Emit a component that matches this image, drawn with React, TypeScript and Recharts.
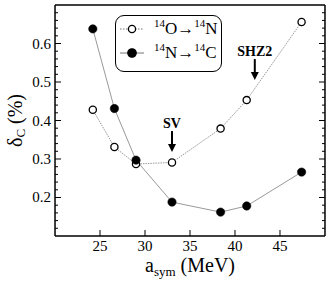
import React from 'react';
import { LineChart, Line, XAxis, YAxis, Legend, ReferenceDot } from 'recharts';

// ---- data ----
const aSym = [24.2, 26.6, 29.0, 33.0, 38.4, 41.3, 47.4];
const oToN = [0.428, 0.331, 0.287, 0.291, 0.379, 0.453, 0.656];
const nToC = [0.638, 0.431, 0.297, 0.188, 0.162, 0.178, 0.266];

const xDomain = [20, 50];
const yDomain = [0.1, 0.7];
const xMajorTicks = [25, 30, 35, 40, 45];
const xMinorTicks = [21, 22, 23, 24, 26, 27, 28, 29, 31, 32, 33, 34, 36, 37, 38, 39, 41, 42, 43, 44, 46, 47, 48, 49];
const yMajorTicks = [0.2, 0.3, 0.4, 0.5, 0.6];
const yMinorTicks = [0.12, 0.14, 0.16, 0.18, 0.22, 0.24, 0.26, 0.28, 0.32, 0.34, 0.36, 0.38, 0.42, 0.44, 0.46, 0.48, 0.52, 0.54, 0.56, 0.58, 0.62, 0.64, 0.66, 0.68];

const annotations = [
  { label: 'SV', x: 33.0, y: 0.318 },
  { label: 'SHZ2', x: 42.2, y: 0.505 },
];

const legendItems = [
  { key: 'o', from: 'O', to: 'N', mass: '14', filled: false },
  { key: 'n', from: 'N', to: 'C', mass: '14', filled: true },
];

const rows = aSym.map((x, i) => ({ x, o: oToN[i], n: nToC[i] }));

const FONT = '"Liberation Serif", "Times New Roman", Times, serif';
const serifStyle = { fontFamily: FONT };
const blank = () => '';
const THIN = 0.01;

const Arrow = (props: any) => {
  const { cx, cy, label } = props;
  if (cx == null || cy == null) return null;
  return (
    <g>
      <text x={cx} y={cy - 29} textAnchor="middle" dominantBaseline="central" style={serifStyle} fontWeight="bold" fontSize={14} fill="#000">
        {label}
      </text>
      <line x1={cx} y1={cy - 21} x2={cx} y2={cy - 6} stroke="#000" strokeWidth={2} />
      <path d={`M ${cx - 4} ${cy - 8} L ${cx + 4} ${cy - 8} L ${cx} ${cy} Z`} fill="#000" />
    </g>
  );
};

const XTick = (props: any) => {
  const { x, y, payload } = props;
  return (
    <text x={x} y={y} dy={10} textAnchor="middle" style={serifStyle} fontSize={15} fill="#000">
      {payload.value}
    </text>
  );
};

const YTick = (props: any) => {
  const { x, y, payload } = props;
  return (
    <text x={x} y={y} dy={5} textAnchor="end" style={serifStyle} fontSize={15} fill="#000">
      {Number(payload.value).toFixed(1)}
    </text>
  );
};

const YLabel = (props: any) => {
  const vb = props.viewBox || {};
  const x = (vb.x ?? 55) - 40;
  const y = (vb.y ?? 5) + (vb.height ?? 230) / 2;
  return (
    <text x={x} y={y} transform={`rotate(-90 ${x} ${y})`} textAnchor="middle" dominantBaseline="central" style={serifStyle} fontSize={20} fill="#000">
      δ<tspan fontSize={13} dy={5}>C</tspan>
      <tspan dy={-5}> (%)</tspan>
    </text>
  );
};

const XLabel = (props: any) => {
  const vb = props.viewBox || {};
  const x = (vb.x ?? 55) + (vb.width ?? 270) / 2;
  const y = (vb.y ?? 236) + 36.5;
  return (
    <text x={x} y={y} textAnchor="middle" style={serifStyle} fontSize={20} fill="#000">
      a<tspan fontSize={13} dy={4}>sym</tspan>
      <tspan dy={-4}> (MeV)</tspan>
    </text>
  );
};

const LegendBox = () => (
  <div
    style={{
      position: 'relative',
      width: 107,
      height: 57,
      border: '1.3px solid #000',
      borderRadius: 9,
      background: '#fff',
      fontFamily: FONT,
      fontSize: 17,
      color: '#000',
      boxSizing: 'border-box',
    }}
  >
    {legendItems.map((it, i) => (
      <div key={it.key} style={{ position: 'absolute', left: 0, top: i === 0 ? 1 : 25, height: 24, display: 'flex', alignItems: 'center' }}>
        <svg width={34} height={24} style={{ display: 'block' }}>
          <line x1={4} y1={12} x2={28} y2={12} stroke="#777" strokeWidth={1} strokeDasharray={it.filled ? undefined : '1.5 1.5'} />
          <circle cx={16} cy={12} r={it.filled ? 4.2 : 3.6} fill={it.filled ? '#000' : '#fff'} stroke="#000" strokeWidth={1.3} />
        </svg>
        <span style={{ marginLeft: 4, whiteSpace: 'nowrap', lineHeight: '24px' }}>
          <span style={{ fontSize: 11, verticalAlign: 'super', lineHeight: 0 }}>{it.mass}</span>
          {it.from}→
          <span style={{ fontSize: 11, verticalAlign: 'super', lineHeight: 0 }}>{it.mass}</span>
          {it.to}
        </span>
      </div>
    ))}
  </div>
);

export default function App() {
  return (
    <div style={{ position: 'absolute', left: 0, top: 0, width: 332, height: 281, background: '#fff', fontFamily: FONT }}>
      <LineChart width={332} height={281} data={rows} margin={{ top: 5, right: 7, bottom: 45, left: 55 }} style={serifStyle}>
        <XAxis
          xAxisId={0}
          dataKey="x"
          type="number"
          domain={xDomain}
          allowDataOverflow
          ticks={xMajorTicks}
          interval={0}
          height={THIN}
          stroke="#000"
          axisLine={{ stroke: '#000', strokeWidth: 1.5 }}
          tickLine={{ stroke: '#000' }}
          tickSize={-6}
          tickMargin={11}
          tick={<XTick />}
          label={XLabel}
        />
        <XAxis xAxisId="xm" type="number" domain={xDomain} allowDataOverflow ticks={xMinorTicks} interval={0} height={THIN} axisLine={false} stroke="#000" tickLine={{ stroke: '#000' }} tickSize={-3} tickFormatter={blank} />
        <XAxis xAxisId="xt" orientation="top" type="number" domain={xDomain} allowDataOverflow ticks={xMajorTicks} interval={0} height={THIN} stroke="#000" axisLine={{ stroke: '#000', strokeWidth: 1.5 }} tickLine={{ stroke: '#000' }} tickSize={-6} tickFormatter={blank} />
        <XAxis xAxisId="xtm" orientation="top" type="number" domain={xDomain} allowDataOverflow ticks={xMinorTicks} interval={0} height={THIN} axisLine={false} stroke="#000" tickLine={{ stroke: '#000' }} tickSize={-3} tickFormatter={blank} />
        <YAxis
          yAxisId={0}
          type="number"
          domain={yDomain}
          allowDataOverflow
          ticks={yMajorTicks}
          interval={0}
          width={THIN}
          stroke="#000"
          axisLine={{ stroke: '#000', strokeWidth: 1.5 }}
          tickLine={{ stroke: '#000' }}
          tickSize={-6}
          tickMargin={10}
          tick={<YTick />}
          label={YLabel}
        />
        <YAxis yAxisId="ym" type="number" domain={yDomain} allowDataOverflow ticks={yMinorTicks} interval={0} width={THIN} axisLine={false} stroke="#000" tickLine={{ stroke: '#000' }} tickSize={-3} tickFormatter={blank} />
        <YAxis yAxisId="yr" orientation="right" type="number" domain={yDomain} allowDataOverflow ticks={yMajorTicks} interval={0} width={THIN} stroke="#000" axisLine={{ stroke: '#000', strokeWidth: 1.5 }} tickLine={{ stroke: '#000' }} tickSize={-6} tickFormatter={blank} />
        <YAxis yAxisId="yrm" orientation="right" type="number" domain={yDomain} allowDataOverflow ticks={yMinorTicks} interval={0} width={THIN} axisLine={false} stroke="#000" tickLine={{ stroke: '#000' }} tickSize={-3} tickFormatter={blank} />
        <Line
          dataKey="o"
          xAxisId={0}
          yAxisId={0}
          stroke="#999"
          strokeWidth={1}
          strokeDasharray="1.5 1"
          isAnimationActive={false}
          dot={{ r: 3.6, fill: '#fff', stroke: '#000', strokeWidth: 1.3, strokeDasharray: '' }}
        />
        <Line
          dataKey="n"
          xAxisId={0}
          yAxisId={0}
          stroke="#999"
          strokeWidth={1}
          isAnimationActive={false}
          dot={{ r: 4.2, fill: '#000', stroke: '#000', strokeWidth: 0.5 }}
        />
        {annotations.map((a) => (
          <ReferenceDot
            key={a.label}
            x={a.x}
            y={a.y}
            xAxisId={0}
            yAxisId={0}
            r={1}
            ifOverflow="visible"
            shape={(p: any) => <Arrow {...p} label={a.label} />}
          />
        ))}
        <Legend
          layout="vertical"
          align="center"
          verticalAlign="middle"
          content={() => <LegendBox />}
          wrapperStyle={{ position: 'absolute', left: 115, top: 15, width: 107, height: 57 }}
        />
      </LineChart>
    </div>
  );
}
